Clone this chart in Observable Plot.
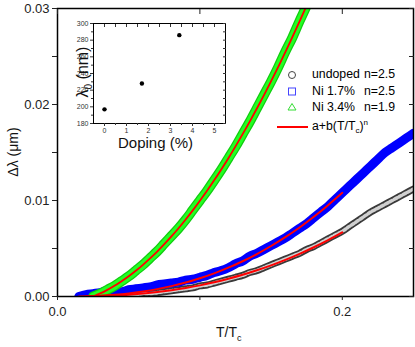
<!DOCTYPE html>
<html><head><meta charset="utf-8">
<script src="https://cdn.jsdelivr.net/npm/d3@7"></script>
<script src="https://cdn.jsdelivr.net/npm/@observablehq/plot@0.6"></script>
<style>
body{margin:0;background:#fff;font-family:"Liberation Sans",Arial,sans-serif;}
#wrap{position:relative;width:415px;height:347px;overflow:hidden;}
.lab{position:absolute;color:#111;white-space:nowrap;line-height:1;}
</style></head><body>
<div id="wrap"></div>
<script>
// ---- main data: T/Tc and Δλ (μm) ----
const tUndoped = [0.03,0.035,0.04,0.045,0.05,0.055,0.06,0.065,0.07,0.075,0.08,0.085,0.09,0.095,0.1,0.105,0.11,0.115,0.12,0.125,0.13,0.135,0.14,0.145,0.15,0.155,0.16,0.165,0.17,0.175,0.18,0.185,0.19,0.195,0.2,0.205,0.21,0.215,0.22,0.225,0.23,0.235,0.24,0.245,0.25];
const dUndoped = [0.0000,0.0000,0.0001,0.0001,0.0002,0.0002,0.0003,0.0003,0.0004,0.0005,0.0006,0.0007,0.0008,0.0009,0.0011,0.0012,0.0014,0.0016,0.0018,0.0020,0.0022,0.0025,0.0027,0.0030,0.0033,0.0036,0.0039,0.0042,0.0045,0.0049,0.0052,0.0056,0.0060,0.0064,0.0068,0.0073,0.0078,0.0083,0.0088,0.0092,0.0096,0.0100,0.0104,0.0108,0.0112];
const tNi17 = [0.015,0.02,0.025,0.03,0.035,0.04,0.045,0.05,0.055,0.06,0.065,0.07,0.075,0.08,0.085,0.09,0.095,0.1,0.105,0.11,0.115,0.12,0.125,0.13,0.135,0.14,0.145,0.15,0.155,0.16,0.165,0.17,0.175,0.18,0.185,0.19,0.195,0.2,0.205,0.21,0.215,0.22,0.225,0.23,0.235,0.24,0.245,0.25];
const dNi17 = [0.0000,0.0002,0.0003,0.0004,0.0006,0.0006,0.0005,0.0007,0.0008,0.0009,0.0010,0.0012,0.0013,0.0014,0.0015,0.0017,0.0018,0.0020,0.0022,0.0025,0.0027,0.0030,0.0034,0.0037,0.0042,0.0045,0.0049,0.0053,0.0057,0.0061,0.0066,0.0071,0.0076,0.0082,0.0088,0.0094,0.0101,0.0108,0.0115,0.0122,0.0129,0.0136,0.0143,0.0150,0.0155,0.0160,0.0165,0.0170];
const tNi34 = [0.025,0.03,0.035,0.04,0.045,0.05,0.055,0.06,0.065,0.07,0.075,0.08,0.085,0.09,0.095,0.1,0.105,0.11,0.115,0.12,0.125,0.13,0.135,0.14,0.145,0.15,0.155,0.16,0.165,0.17,0.175,0.18];
const dNi34 = [0.0000,0.0003,0.0007,0.0011,0.0016,0.0021,0.0027,0.0033,0.0040,0.0047,0.0055,0.0063,0.0071,0.0080,0.0090,0.0100,0.0110,0.0121,0.0132,0.0144,0.0156,0.0169,0.0182,0.0196,0.0210,0.0224,0.0239,0.0255,0.0270,0.0287,0.0303,0.0320];
// ---- fits a+b(T/Tc)^n ----
const tFitUndoped = [0.02,0.03,0.04,0.05,0.06,0.07,0.08,0.09,0.1,0.11,0.12,0.13,0.14,0.15,0.16,0.17,0.18,0.19,0.2];
const fFitUndoped = [0.0000,0.00004,0.00010,0.00019,0.00031,0.00046,0.00066,0.00089,0.00116,0.00148,0.00185,0.00226,0.00273,0.00324,0.00381,0.00444,0.00513,0.00587,0.00668];
const tFitNi17 = [0.015,0.02,0.03,0.04,0.05,0.06,0.07,0.08,0.09,0.1,0.11,0.12,0.13,0.14,0.15,0.16,0.17,0.18,0.19,0.2];
const fFitNi17 = [0.0000,0.00002,0.00008,0.00018,0.00032,0.00052,0.00077,0.00108,0.00145,0.00190,0.00241,0.00300,0.00367,0.00442,0.00526,0.00618,0.00719,0.00830,0.00951,0.01080];
const tFitNi34 = [0.025,0.03,0.035,0.04,0.045,0.05,0.055,0.06,0.065,0.07,0.075,0.08,0.085,0.09,0.095,0.1,0.105,0.11,0.115,0.12,0.125,0.13,0.135,0.14,0.145,0.15,0.155,0.16,0.165,0.17,0.175,0.18];
const fFitNi34 = [0.0000,0.00032,0.00069,0.00111,0.00159,0.00211,0.00268,0.00330,0.00397,0.00468,0.00545,0.00626,0.00711,0.00802,0.00897,0.00997,0.01101,0.01210,0.01324,0.01441,0.01564,0.01691,0.01822,0.01958,0.02098,0.02243,0.02392,0.02546,0.02704,0.02866,0.03032,0.0320];
// ---- inset: λ0 vs doping ----
const doping = [0, 1.7, 3.4];
const lambda0 = [197, 228, 286];
// ---- ticks ----
const yMajor = [0, 0.01, 0.02, 0.03];
const yMinor = [0.005, 0.015, 0.025];
const xMajor = [0, 0.2];
const xMinor = [0.1];
const insetYTicks = [180,200,220,240,260,280,300];
const insetYMinor = [190,210,230,250,270,290];
const insetXTicks = [0,1,2,3,4,5];
const insetXMinor = [0.5,1.5,2.5,3.5,4.5];
// ---- legend ----
const legNames = ['undoped', 'Ni 1.7%', 'Ni 3.4%'];
const legN = ['n=2.5', 'n=2.5', 'n=1.9'];

const pts = (t, d) => t.map((x, i) => ({x, y: d[i]}));
const none = () => "";

const main = Plot.plot({
  width: 415, height: 347,
  marginLeft: 57, marginRight: 2, marginTop: 8, marginBottom: 51,
  x: {domain: [0, 0.25]},
  y: {domain: [0, 0.03]},
  style: {fontFamily: "Liberation Sans, Arial, sans-serif", fontSize: "13px", color: "#222", background: "white"},
  marks: [
    Plot.line(pts(tUndoped, dUndoped), {x: "x", y: "y", stroke: "#3a3a3a", strokeWidth: 7, curve: "monotone-x", clip: true}),
    Plot.line(pts(tUndoped, dUndoped), {x: "x", y: "y", stroke: "#d0d0d0", strokeWidth: 3.5, strokeDasharray: "3,2", curve: "monotone-x", clip: true}),
    Plot.line(pts(tNi17, dNi17), {x: "x", y: "y", stroke: "#0000ff", strokeWidth: 9, curve: "monotone-x", clip: true}),
    Plot.line(pts(tNi34, dNi34), {x: "x", y: "y", stroke: "#11cc11", strokeWidth: 10, curve: "monotone-x", clip: true}),
    Plot.line(pts(tNi34, dNi34), {x: "x", y: "y", stroke: "#22ff22", strokeWidth: 7.5, curve: "monotone-x", clip: true}),
    Plot.line(pts(tFitUndoped, fFitUndoped), {x: "x", y: "y", stroke: "#ff0000", strokeWidth: 2, curve: "natural", clip: true}),
    Plot.line(pts(tFitNi17, fFitNi17), {x: "x", y: "y", stroke: "#ff0000", strokeWidth: 2, curve: "natural", clip: true}),
    Plot.line(pts(tFitNi34, fFitNi34), {x: "x", y: "y", stroke: "#ff0000", strokeWidth: 1.8, curve: "natural", clip: true}),
    Plot.frame({stroke: "#000", strokeWidth: 1.5}),
    Plot.axisY(yMajor, {anchor: "left", tickSize: 5, tickFormat: d3.format(".2f"), label: null, tickPadding: 3, fontSize: 13}),
    Plot.axisY(yMinor, {anchor: "left", tickSize: 5, tickFormat: none, label: null}),
    Plot.axisY(yMajor.concat(yMinor), {anchor: "right", tickSize: -5, tickFormat: none, label: null}),
    Plot.axisX(xMajor, {anchor: "bottom", tickSize: 4, tickFormat: d3.format(".1f"), label: null, tickPadding: 6, fontSize: 13}),
    Plot.axisX(xMinor, {anchor: "bottom", tickSize: 4, tickFormat: none, label: null}),
    Plot.axisX(xMajor.concat(xMinor), {anchor: "top", tickSize: -5, tickFormat: none, label: null})
  ]
});
const wrap = document.getElementById("wrap");
main.style.position = "absolute"; main.style.left = "0px"; main.style.top = "0px";
wrap.appendChild(main);

const inset = Plot.plot({
  width: 172, height: 130,
  marginLeft: 30, marginRight: 10, marginTop: 15, marginBottom: 15,
  x: {domain: [-0.5, 5.5]},
  y: {domain: [180, 300]},
  style: {fontFamily: "Liberation Sans, Arial, sans-serif", fontSize: "7px", color: "#333", background: "transparent"},
  marks: [
    Plot.frame({fill: "white", stroke: "#000", strokeWidth: 1}),
    Plot.dot(doping.map((d, i) => ({d, l: lambda0[i]})), {x: "d", y: "l", r: 2.2, fill: "#000"}),
    Plot.axisY(insetYTicks, {anchor: "left", tickSize: 3, label: null, tickPadding: 2, fontSize: 7}),
    Plot.axisY(insetYMinor, {anchor: "left", tickSize: 2, tickFormat: none, label: null}),
    Plot.axisY(insetYTicks.concat(insetYMinor), {anchor: "right", tickSize: -3, tickFormat: none, label: null}),
    Plot.axisX(insetXTicks, {anchor: "bottom", tickSize: 3, label: null, tickPadding: 2, fontSize: 7}),
    Plot.axisX(insetXMinor, {anchor: "bottom", tickSize: 2, tickFormat: none, label: null}),
    Plot.axisX(insetXTicks.concat(insetXMinor), {anchor: "top", tickSize: -3, tickFormat: none, label: null})
  ]
});
inset.style.position = "absolute"; inset.style.left = "63px"; inset.style.top = "8px";
wrap.appendChild(inset);

function addLabel(html, css) {
  const d = document.createElement("div");
  d.className = "lab"; d.innerHTML = html;
  Object.assign(d.style, css);
  wrap.appendChild(d);
  return d;
}
// main axis labels
addLabel('T/T<span style="font-size:9px;position:relative;top:4px">c</span>', {left: "216px", top: "325px", fontSize: "14px"});
addLabel('Δλ (μm)', {left: "13px", top: "152px", fontSize: "14px", transform: "translate(-50%,-50%) rotate(-90deg)"});
// inset labels
addLabel('λ<span style="font-size:10px;position:relative;top:4px">0</span> (nm)', {left: "83px", top: "72px", fontSize: "16px", transform: "translate(-50%,-50%) rotate(-90deg)"});
addLabel('Doping (%)', {left: "118px", top: "135px", fontSize: "15px"});

// legend
const legend = document.createElementNS("http://www.w3.org/2000/svg", "svg");
legend.setAttribute("width", 140); legend.setAttribute("height", 70);
legend.style.position = "absolute"; legend.style.left = "272px"; legend.style.top = "66px";
legend.innerHTML =
  '<circle cx="20" cy="9" r="3.5" fill="none" stroke="#444" stroke-width="1"/>' +
  '<rect x="16.5" y="22" width="7" height="7" fill="none" stroke="#4444ff" stroke-width="1"/>' +
  '<path d="M20,37.5 L24,44 L16,44 Z" fill="none" stroke="#33dd33" stroke-width="1"/>' +
  '<line x1="5" y1="61" x2="36" y2="61" stroke="#ff0000" stroke-width="2"/>';
wrap.appendChild(legend);
legNames.forEach((a, i) => {
  const top = 68 + i * 16.5;
  addLabel(a, {left: "312px", top: top + "px", fontSize: "12.3px", color: "#000"});
  addLabel(legN[i], {left: "364px", top: top + "px", fontSize: "12.3px", color: "#000"});
});
addLabel('a+b(T/T<span style="font-size:8px;position:relative;top:3px">c</span>)<span style="font-size:8px;position:relative;top:-5px">n</span>', {left: "312px", top: "120px", fontSize: "12.3px", color: "#000"});
</script>
</body></html>
